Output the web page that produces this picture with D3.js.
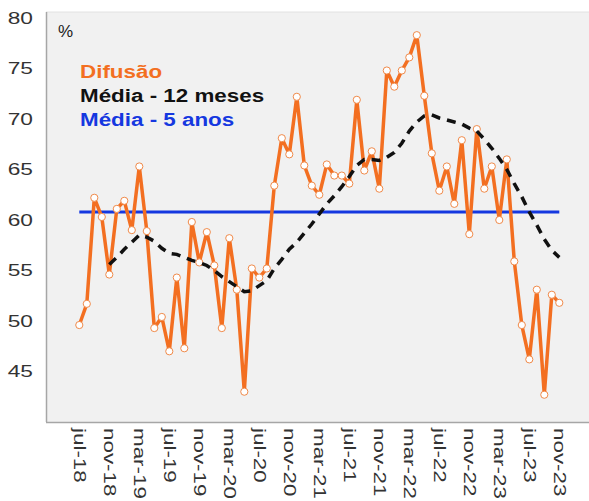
<!DOCTYPE html>
<html>
<head>
<meta charset="utf-8">
<script src="https://cdn.jsdelivr.net/npm/d3@7"></script>
<style>
  html, body { margin: 0; padding: 0; background: #ffffff; }
  svg { display: block; }
</style>
</head>
<body>
<svg id="chart" width="589" height="501"></svg>
<script>
// ---- data ----
const categories = [
  "jul-18","ago-18","set-18","out-18","nov-18","dez-18",
  "jan-19","fev-19","mar-19","abr-19","mai-19","jun-19","jul-19","ago-19","set-19","out-19","nov-19","dez-19",
  "jan-20","fev-20","mar-20","abr-20","mai-20","jun-20","jul-20","ago-20","set-20","out-20","nov-20","dez-20",
  "jan-21","fev-21","mar-21","abr-21","mai-21","jun-21","jul-21","ago-21","set-21","out-21","nov-21","dez-21",
  "jan-22","fev-22","mar-22","abr-22","mai-22","jun-22","jul-22","ago-22","set-22","out-22","nov-22","dez-22",
  "jan-23","fev-23","mar-23","abr-23","mai-23","jun-23","jul-23","ago-23","set-23","out-23","nov-23"
];
const difusao = [
  49.6,51.7,62.2,60.3,54.6,61.1,
  61.9,59.0,65.3,58.9,49.3,50.4,47.0,54.3,47.3,59.8,55.8,58.8,
  55.5,49.3,58.2,53.1,43.0,55.2,54.3,55.2,63.4,68.1,66.5,72.2,
  65.4,63.4,62.5,65.5,64.4,64.4,63.6,71.9,64.9,66.8,63.1,74.8,
  73.2,74.8,76.1,78.3,72.3,66.6,62.9,65.3,61.6,67.9,58.6,69.0,
  63.1,65.3,60.0,66.0,55.9,49.6,46.2,53.1,42.7,52.6,51.8
];
// 12-month average, starting at nov-18
const media12Start = "nov-18";
const media12 = [
  55.6,56.3,57.1,57.8,58.5,58.3,57.9,57.2,56.7,56.6,
  56.3,56.0,55.8,55.5,55.0,54.4,53.9,53.4,52.9,53.0,
  53.5,54.0,55.2,56.1,57.1,57.8,58.7,59.6,60.6,61.6,
  62.4,63.3,64.3,65.4,66.0,66.0,65.9,66.2,66.7,67.6,
  68.8,69.7,70.3,70.4,70.1,69.9,69.7,69.5,69.1,68.8,
  68.0,67.1,66.1,65.0,63.6,62.3,60.8,59.5,58.1,57.0,56.3
];
const media5anos = 60.8;
const yTicks = [45, 50, 55, 60, 65, 70, 75, 80];
const xTickLabels = ["jul-18","nov-18","mar-19","jul-19","nov-19","mar-20","jul-20","nov-20",
  "mar-21","jul-21","nov-21","mar-22","jul-22","nov-22","mar-23","jul-23","nov-23"];
const legendLabels = ["Difusão", "Média - 12 meses", "Média - 5 anos"];

// ---- layout ----
const svg = d3.select("#chart");
const plot = { left: 46, right: 589, top: 12, bottom: 422 };
const FONT = "'Liberation Sans', Arial, sans-serif";
const ORANGE = "#f36f21", BLUE = "#1538e0", BLACK = "#111111";

const x = d3.scalePoint().domain(categories).range([79.3, 559.3]);
const y = d3.scaleLinear().domain([40, 80]).range([422, 18]);

// background
svg.append("rect")
  .attr("x", plot.left).attr("y", plot.top)
  .attr("width", plot.right - plot.left).attr("height", plot.bottom - plot.top)
  .attr("fill", "#f1f1f1");
svg.append("line").attr("x1", plot.left).attr("x2", plot.right)
  .attr("y1", plot.top).attr("y2", plot.top).attr("stroke", "#e2e2e2").attr("stroke-width", 1);
svg.append("line").attr("x1", plot.left + 0.5).attr("x2", plot.left + 0.5)
  .attr("y1", plot.top).attr("y2", plot.bottom).attr("stroke", "#a6a6a6").attr("stroke-width", 1.5);
svg.append("line").attr("x1", plot.left).attr("x2", plot.right)
  .attr("y1", plot.bottom + 0.5).attr("y2", plot.bottom + 0.5).attr("stroke", "#a6a6a6").attr("stroke-width", 1.5);

// y tick labels
svg.append("g").selectAll("text").data(yTicks).join("text")
  .attr("transform", d => `translate(33,${y(d)}) scale(1.42,1)`)
  .attr("text-anchor", "end").attr("dominant-baseline", "central")
  .attr("font-family", FONT).attr("font-size", 16).attr("fill", "#333")
  .text(d => d);

// x tick labels (rotated)
svg.append("g").selectAll("text").data(xTickLabels).join("text")
  .attr("transform", d => `translate(${x(d)},428) rotate(90) scale(1.4,1)`)
  .attr("text-anchor", "start").attr("dominant-baseline", "central")
  .attr("font-family", FONT).attr("font-size", 16).attr("fill", "#333")
  .text(d => d);

// % label
svg.append("text").attr("x", 58).attr("y", 37)
  .attr("font-family", FONT).attr("font-size", 17).attr("fill", "#222")
  .text("%");

// blue 5-year average
svg.append("line")
  .attr("x1", x(categories[0])).attr("x2", x(categories[categories.length - 1]))
  .attr("y1", y(media5anos)).attr("y2", y(media5anos))
  .attr("stroke", BLUE).attr("stroke-width", 3);

// orange line
const line = d3.line().x(d => x(d.c)).y(d => y(d.v));
const difData = categories.map((c, i) => ({ c, v: difusao[i] }));
svg.append("path").datum(difData)
  .attr("d", line).attr("fill", "none")
  .attr("stroke", ORANGE).attr("stroke-width", 3.5).attr("stroke-linejoin", "round");
svg.append("g").selectAll("circle").data(difData).join("circle")
  .attr("cx", d => x(d.c)).attr("cy", d => y(d.v)).attr("r", 3.6)
  .attr("fill", "#ffffff").attr("stroke", "#f08a4a").attr("stroke-width", 1);

// dashed 12-month average
const startIdx = categories.indexOf(media12Start);
const m12Data = media12.map((v, i) => ({ c: categories[startIdx + i], v }));
svg.append("path").datum(m12Data)
  .attr("d", line).attr("fill", "none")
  .attr("stroke", BLACK).attr("stroke-width", 3.5)
  .attr("stroke-dasharray", "9,7");

// legend
const legendColors = [ORANGE, BLACK, BLUE];
const legendY = [78, 102, 126];
svg.append("g").selectAll("text").data(legendLabels).join("text")
  .attr("transform", (d, i) => `translate(80,${legendY[i]}) scale(1.28,1)`)
  .attr("font-family", FONT).attr("font-size", 17.5).attr("font-weight", "bold")
  .attr("fill", (d, i) => legendColors[i])
  .text(d => d);
</script>
</body>
</html>
